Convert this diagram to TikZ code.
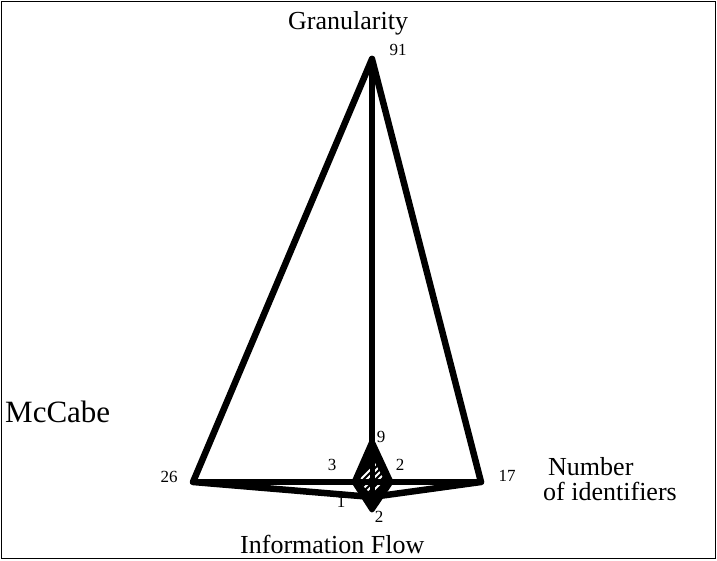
\documentclass[tikz,border=0pt]{standalone}
\usepackage{fontspec}
\setmainfont{Liberation Serif}
\begin{document}
\begin{tikzpicture}[x=1pt,y=-1pt,
  axis/.style={line width=6.5pt, line join=round, line cap=round},
  lab/.style={font=\fontsize{26}{30}\selectfont, inner sep=0pt},
  num/.style={font=\fontsize{17}{19}\selectfont, inner sep=0pt}]
\useasboundingbox (0,0) rectangle (717,561);
\draw[line width=1.5pt] (1.5,1.5) rectangle (715.5,558.5);

\coordinate (G) at (372,59);
\coordinate (M) at (193,482);
\coordinate (N) at (481,482);
\coordinate (I) at (372,497);
\coordinate (C) at (372,482);
\coordinate (g) at (372,441);
\coordinate (m) at (354,482);
\coordinate (n) at (391,482);
\coordinate (i) at (372,510);

% large Kiviat polygon and axes
\draw[axis] (M) -- (G) -- (N) -- (I) -- cycle;
\draw[axis] (G) -- (C);
\draw[axis] (M) -- (N);

% small hatched polygon
\filldraw[line width=5pt, line join=round] (g) -- (n) -- (i) -- (m) -- cycle;
\begin{scope}
  \clip (372,457) -- (385,482) -- (372,495) -- (359,482) -- cycle;
  \foreach \k in {0,...,14} \draw[white, line width=2pt] (330+6*\k, 510) -- +(50,-50);
\end{scope}
\draw[line width=5pt] (g) -- (i);
\draw[line width=5.5pt] (m) -- (n);

% axis labels
\node[lab, anchor=base west] (tG) at (288,30) {Granularity};
\node[lab, anchor=base west, font=\fontsize{31}{34}\selectfont] (tM) at (5,422) {McCabe};
\node[lab, anchor=base west] (tN1) at (548,475) {Number};
\node[lab, anchor=base west] (tN2) at (543,500) {of identifiers};
\node[lab, anchor=base west] (tI) at (240,553) {Information Flow};

% values
\node[num] (v91) at (398,50) {91};
\node[num] (v26) at (169,477) {26};
\node[num] (v17) at (507,476) {17};
\node[num] (v9) at (381,437) {9};
\node[num] (v3) at (332,465) {3};
\node[num] (v2a) at (400,465) {2};
\node[num] (v1) at (341,502) {1};
\node[num] (v2b) at (379,517) {2};
\end{tikzpicture}
\end{document}
